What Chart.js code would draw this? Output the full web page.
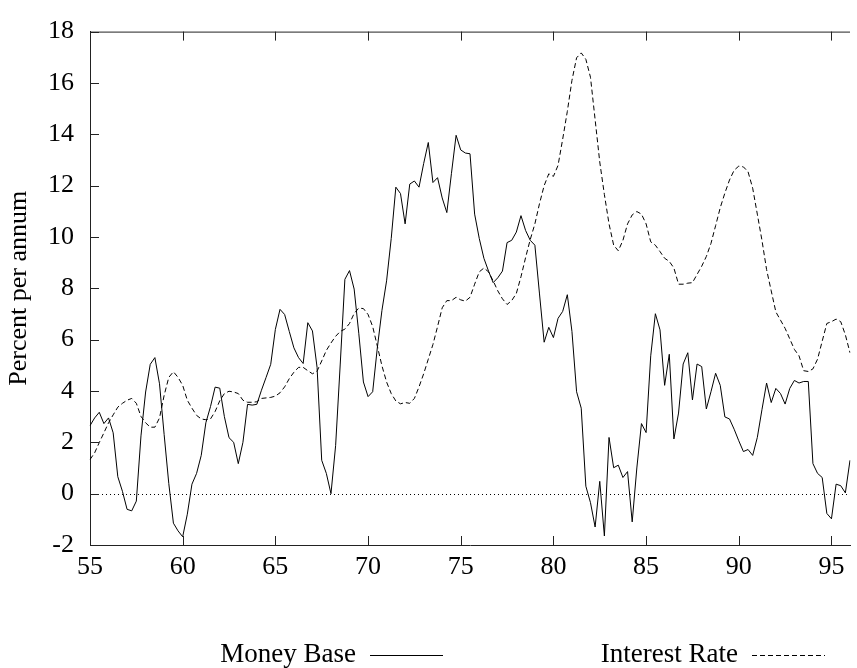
<!DOCTYPE html>
<html>
<head>
<meta charset="utf-8">
<script src="https://cdn.jsdelivr.net/npm/chart.js@4/dist/chart.umd.min.js"></script>
<style>
  html, body { margin: 0; padding: 0; background: #fff; }
  #wrap { width: 857px; height: 668px; }
</style>
</head>
<body>
<div id="wrap"><canvas id="c" width="857" height="668"></canvas></div>
<script>
// Quarterly observations, 1955Q1 .. 1996Q1
const firstYear = 55;
const lastYear = 96;
const tickLabels = ['55', '60', '65', '70', '75', '80', '85', '90', '95'];
const yTicks = [-2, 0, 2, 4, 6, 8, 10, 12, 14, 16, 18];

const moneyBase = [
  2.65, 2.95, 3.17, 2.73, 2.95, 2.37, 0.66, 0.09, -0.61, -0.67,
  -0.29, 2.25, 3.96, 5.04, 5.30, 4.28, 2.30, 0.40, -1.15, -1.45,
  -1.68, -0.80, 0.37, 0.79, 1.49, 2.76, 3.39, 4.15, 4.11, 3.00,
  2.18, 2.00, 1.17, 2.00, 3.48, 3.45, 3.48, 4.03, 4.53, 5.04,
  6.40, 7.18, 6.98, 6.32, 5.68, 5.30, 5.07, 6.66, 6.34, 4.92,
  1.30, 0.79, 0.00, 1.87, 5.05, 8.35, 8.69, 7.97, 6.25, 4.35,
  3.78, 3.97, 5.68, 7.14, 8.29, 9.94, 11.94, 11.69, 10.51, 12.06,
  12.18, 11.94, 12.86, 13.68, 12.12, 12.31, 11.52, 10.95, 12.48, 13.96,
  13.39, 13.27, 13.24, 10.89, 9.94, 9.17, 8.67, 8.22, 8.41, 8.67,
  9.78, 9.87, 10.19, 10.83, 10.25, 9.87, 9.68, 7.78, 5.90, 6.48,
  6.08, 6.83, 7.10, 7.75, 6.32, 3.97, 3.33, 0.29, -0.35, -1.30,
  0.48, -1.65, 2.19, 1.01, 1.11, 0.63, 0.86, -1.10, 1.00, 2.73,
  2.38, 5.37, 7.01, 6.38, 4.22, 5.43, 2.13, 3.14, 5.05, 5.49,
  3.65, 5.05, 4.95, 3.30, 3.97, 4.69, 4.22, 2.99, 2.91, 2.51,
  2.06, 1.64, 1.72, 1.49, 2.19, 3.27, 4.31, 3.55, 4.10, 3.90,
  3.49, 4.10, 4.41, 4.31, 4.37, 4.37, 1.17, 0.79, 0.63, -0.77,
  -0.98, 0.37, 0.31, 0.03, 1.30
];

const interestRate = [
  1.33, 1.59, 1.99, 2.37, 2.76, 3.07, 3.37, 3.52, 3.64, 3.71,
  3.52, 3.01, 2.76, 2.59, 2.59, 2.95, 3.83, 4.53, 4.75, 4.53,
  4.22, 3.64, 3.33, 3.05, 2.91, 2.88, 2.91, 3.20, 3.62, 3.90,
  3.99, 3.96, 3.90, 3.64, 3.56, 3.56, 3.58, 3.71, 3.73, 3.75,
  3.80, 3.93, 4.16, 4.48, 4.73, 4.92, 4.92, 4.79, 4.67, 4.77,
  5.17, 5.58, 5.87, 6.13, 6.32, 6.41, 6.63, 7.02, 7.23, 7.21,
  6.98, 6.51, 5.75, 4.98, 4.35, 3.90, 3.61, 3.50, 3.55, 3.52,
  3.71, 4.16, 4.67, 5.24, 5.81, 6.51, 7.24, 7.52, 7.52, 7.65,
  7.55, 7.50, 7.65, 8.16, 8.64, 8.79, 8.64, 8.29, 7.90, 7.59,
  7.37, 7.52, 7.80, 8.45, 9.20, 9.90, 10.51, 11.30, 12.00, 12.46,
  12.36, 12.79, 13.81, 14.89, 16.10, 16.98, 17.17, 16.92, 16.22, 14.57,
  12.92, 11.65, 10.51, 9.68, 9.46, 9.87, 10.51, 10.86, 10.99, 10.89,
  10.51, 9.81, 9.68, 9.43, 9.17, 9.05, 8.79, 8.16, 8.16, 8.20,
  8.22, 8.54, 8.86, 9.24, 9.75, 10.44, 11.14, 11.71, 12.22, 12.60,
  12.76, 12.73, 12.54, 11.90, 10.89, 9.87, 8.73, 7.90, 7.08, 6.76,
  6.44, 6.03, 5.62, 5.37, 4.79, 4.76, 4.86, 5.24, 5.94, 6.63,
  6.70, 6.80, 6.70, 6.19, 5.49
];

// category labels: one per quarter
const quarters = [];
for (let y = firstYear; y <= lastYear; y++) {
  for (let q = 1; q <= 4; q++) {
    if (y === lastYear && q > 1) break;
    quarters.push({ year: String(y), q: q });
  }
}
const labels = quarters.map(d => d.year + 'Q' + d.q);

const FONT = 'Liberation Serif, Times New Roman, serif';
const TICK_LEN = 9;
const AXIS_COLOR = '#222';

const framePlugin = {
  id: 'frame',
  beforeDatasetsDraw(chart) {
    const { ctx, chartArea: a, scales: { y } } = chart;
    const y0 = Math.round(y.getPixelForValue(0)) + 0.5;
    ctx.save();
    ctx.strokeStyle = '#000';
    ctx.lineWidth = 1;
    ctx.setLineDash([1, 3]);
    ctx.beginPath();
    ctx.moveTo(a.left, y0);
    ctx.lineTo(a.right, y0);
    ctx.stroke();
    ctx.restore();
  },
  afterDraw(chart) {
    const { ctx, chartArea: a, scales: { x, y } } = chart;
    ctx.save();
    ctx.strokeStyle = AXIS_COLOR;
    ctx.lineWidth = 1;
    ctx.setLineDash([]);
    // top border
    ctx.beginPath();
    ctx.moveTo(a.left, a.top + 0.5);
    ctx.lineTo(a.right, a.top + 0.5);
    ctx.stroke();
    // x ticks (inward, bottom and top)
    quarters.forEach((d, i) => {
      if (d.q === 1 && tickLabels.includes(d.year)) {
        const px = Math.round(x.getPixelForValue(i)) + 0.5;
        ctx.beginPath();
        ctx.moveTo(px, a.bottom);
        ctx.lineTo(px, a.bottom - TICK_LEN);
        ctx.moveTo(px, a.top);
        ctx.lineTo(px, a.top + TICK_LEN);
        ctx.stroke();
      }
    });
    // y ticks (inward, left)
    yTicks.forEach(v => {
      const py = Math.round(y.getPixelForValue(v)) + 0.5;
      ctx.beginPath();
      ctx.moveTo(a.left, py);
      ctx.lineTo(a.left + TICK_LEN, py);
      ctx.stroke();
    });
    // legend: text then line sample
    const items = [
      { ds: chart.data.datasets[0], textRight: 356, lineFrom: 370, lineTo: 443 },
      { ds: chart.data.datasets[1], textRight: 738, lineFrom: 752, lineTo: 825 }
    ];
    const ly = 655;
    ctx.font = '27px ' + FONT;
    ctx.fillStyle = '#000';
    ctx.textAlign = 'right';
    ctx.textBaseline = 'middle';
    items.forEach(it => {
      ctx.fillText(it.ds.label, it.textRight, ly);
      ctx.strokeStyle = '#000';
      ctx.lineWidth = 1;
      ctx.setLineDash(it.ds.borderDash || []);
      ctx.beginPath();
      ctx.moveTo(it.lineFrom, ly + 0.5);
      ctx.lineTo(it.lineTo, ly + 0.5);
      ctx.stroke();
    });
    ctx.restore();
  }
};

new Chart(document.getElementById('c'), {
  type: 'line',
  data: {
    labels: labels,
    datasets: [
      {
        label: 'Money Base',
        data: moneyBase,
        borderColor: '#000',
        borderWidth: 1,
        pointRadius: 0,
        tension: 0,
        fill: false
      },
      {
        label: 'Interest Rate',
        data: interestRate,
        borderColor: '#000',
        borderWidth: 1,
        borderDash: [5, 3],
        pointRadius: 0,
        tension: 0,
        fill: false
      }
    ]
  },
  options: {
    responsive: false,
    animation: false,
    devicePixelRatio: 1,
    layout: { padding: { top: 20, right: 0, bottom: 0, left: 0 } },
    plugins: { legend: { display: false }, tooltip: { enabled: false } },
    scales: {
      x: {
        type: 'category',
        offset: false,
        grid: { display: false, drawTicks: false },
        border: { display: true, color: AXIS_COLOR, width: 1 },
        ticks: {
          autoSkip: false,
          maxRotation: 0,
          minRotation: 0,
          padding: 7,
          color: '#000',
          font: { family: FONT, size: 26 },
          callback: function (val, idx) {
            const d = quarters[idx];
            return (d && d.q === 1 && tickLabels.includes(d.year)) ? d.year : '';
          }
        },
        afterFit(scale) { scale.height = 123; }
      },
      y: {
        min: -2,
        max: 18,
        grid: { display: false, drawTicks: false },
        border: { display: true, color: AXIS_COLOR, width: 1 },
        ticks: {
          stepSize: 2,
          padding: 16,
          color: '#000',
          font: { family: FONT, size: 26 }
        },
        title: {
          display: true,
          text: 'Percent per annum',
          color: '#000',
          font: { family: FONT, size: 26 },
          padding: { top: 4, bottom: 0 }
        },
        afterFit(scale) { scale.width = 90; }
      }
    }
  },
  plugins: [framePlugin]
});
</script>
</body>
</html>
